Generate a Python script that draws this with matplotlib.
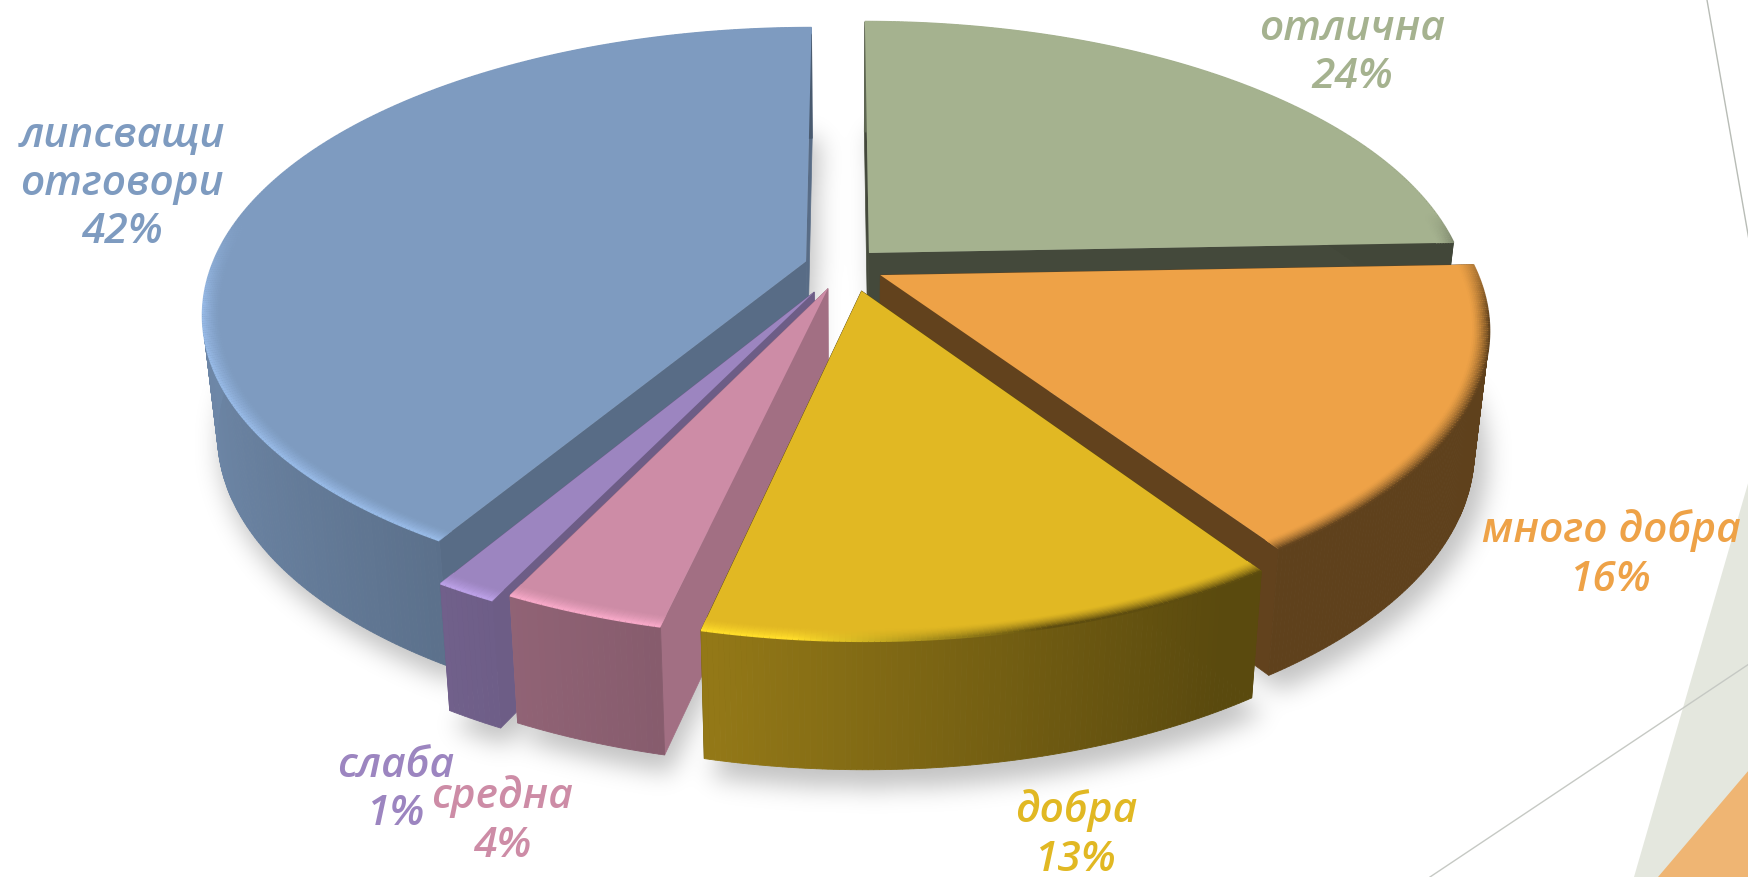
import numpy as np
import matplotlib
matplotlib.use('Agg')
import matplotlib.pyplot as plt
from matplotlib.collections import LineCollection
from matplotlib.colors import to_rgb
from matplotlib.path import Path

categories = ['отлична', 'много добра', 'добра', 'средна', 'слаба', 'липсващи\nотговори']
values = [24.4, 16.2, 13.0, 3.6, 1.4, 41.4]
pct_labels = ['24%', '16%', '13%', '4%', '1%', '42%']
colors = ['#A5B28F', '#EEA247', '#E1B823', '#CD8CA6', '#9C85C0', '#7E9BC0']
explode = [0.066, 0.072, 0.09, 0.085, 0.105, 0.063]
nudge_x = [0, 0, 0.016, 0.005, 0.004, 0]
wall_shade = [.41, .41, .41, .79, .70, .70]
label_x = [1352, 1611, 1076, 502, 396, 122]
label_y = [53, 555, 835, 821, 790, 184]
# drawing order, back to front
order = [0, 5, 1, 4, 3, 2]

W, H = 1749, 877
CX, CY = 842, 266   # centre of the pie, px
A, B = 594, 277     # disc radii, px
PERSP = 0.18
DEPTH = 118


def project(X, Y):
    p = 1 / (1 + PERSP * Y)
    return CX + A * X * p, CY - B * Y * p, p


def bottom(x, y, p):
    return CX + (x - CX) * 0.977, y + DEPTH * p**0.4


def shade(X):
    return np.interp(X, [-1, -.5, -.2, .5, 1], [.87, .72, .65, .40, .40])


def dark(c, f):
    return tuple(np.minimum(np.array(to_rgb(c)) * f, 1))


def blur(a, sigma):
    r = int(3 * sigma)
    g = np.exp(-np.arange(-r, r + 1)**2 / (2 * sigma**2))
    g /= g.sum()
    a = np.apply_along_axis(np.convolve, 0, a, g, mode='same')
    return np.apply_along_axis(np.convolve, 1, a, g, mode='same')


plt.rcParams['font.family'] = ['Open Sans', 'DejaVu Sans']
fig = plt.figure(figsize=(W / 100, H / 100), dpi=100)
ax = fig.add_axes([0, 0, 1, 1])

# slide decoration at right
ax.fill([1749, 1634, 1749], [480, 877, 877], color='#E4E7DE', lw=0, zorder=0)
ax.fill([1749, 1658, 1749], [770, 877, 877], color='#EFB573', lw=0, zorder=0)
ax.plot([1707, 1749], [0, 240], color='#B8BCB6', lw=1, zorder=0)
ax.plot([1430, 1749], [877, 664], color='#C6C9C4', lw=1, zorder=0)

edges = np.cumsum([0] + values) / sum(values) * 2 * np.pi
pie = {}
for i in range(len(values)):
    t = np.linspace(edges[i], edges[i + 1], max(int(values[i] * 8), 8))
    m = (edges[i] + edges[i + 1]) / 2
    pie[i] = (t, explode[i] * np.sin(m) + nudge_x[i], explode[i] * np.cos(m))

# soft shadow: bottom outlines of the slices, rasterised and blurred
gx, gy = np.meshgrid(np.arange(0, W, 2) + 1, np.arange(0, H, 2) + 1)
pts = np.c_[gx.ravel(), gy.ravel()]
mask = np.zeros(gx.shape)
for i in order:
    t, ox, oy = pie[i]
    x, y, p = project(np.r_[ox, ox + np.sin(t)], np.r_[oy, oy + np.cos(t)])
    xb, yb = bottom(x, y, p)
    xb = CX + 8 + (xb - CX) * 1.01
    yb = 125 + (yb - 125) * 1.03
    inside = Path(np.c_[xb, yb]).contains_points(pts).reshape(gx.shape)
    mask[inside] = 1
mask = blur(mask, 6)
rgba = np.zeros(mask.shape + (4,))
rgba[..., 3] = mask * 0.24
ax.imshow(rgba, extent=(0, W, H, 0), aspect='auto', zorder=1, interpolation='bilinear')

for i in order:
    t, ox, oy = pie[i]
    c = colors[i]
    x, y, p = project(ox + np.sin(t), oy + np.cos(t))
    x0, y0, p0 = project(ox, oy)
    xb, yb = bottom(x, y, p)
    x0b, y0b = bottom(x0, y0, p0)
    # radial walls
    for j in (0, -1):
        ax.fill([x0, x[j], xb[j], x0b], [y0, y[j], yb[j], y0b],
                color=dark(c, wall_shade[i]), lw=.5, zorder=2)
    # outer wall, in strips so the shade can change along it
    for k in range(len(t) - 1):
        f = shade(np.sin((t[k] + t[k + 1]) / 2))
        ax.fill([x[k], x[k + 1], xb[k + 1], xb[k]], [y[k], y[k + 1], yb[k + 1], yb[k]],
                color=dark(c, f), lw=.6, zorder=2)
    ax.fill(np.r_[x0, x], np.r_[y0, y], color=c, lw=0, zorder=2)
    # soft bevel along the front rim: light on the left, dark on the right
    for w in np.linspace(0, 1, 11):
        r = 1 - 0.028 * (1 - w)
        rx, ry, _ = project(ox + r * np.sin(t), oy + r * np.cos(t))
        seg = np.stack([np.c_[rx[:-1], ry[:-1]], np.c_[rx[1:], ry[1:]]], axis=1)
        mid = (t[:-1] + t[1:]) / 2
        front = np.clip((0.15 - np.cos(mid)) / 0.3, 0, 1) * w**1.5
        side = np.clip((np.sin(mid) + 0.1) / 0.35, 0, 1)[:, None]
        edge = (1 - side) * np.array(dark(c, 1.2)) + side * np.array(dark(c, .42))
        cols = (1 - front[:, None]) * np.array(to_rgb(c)) + front[:, None] * edge
        ax.add_collection(LineCollection(seg, colors=cols, linewidths=1.6, zorder=2))

# labels
for i in range(len(values)):
    ax.text(label_x[i], label_y[i], categories[i] + '\n' + pct_labels[i], color=colors[i],
            fontsize=30.5, style='italic', weight='semibold', ha='center', va='center',
            linespacing=1.2, zorder=3)

ax.set_xlim(0, W)
ax.set_ylim(H, 0)
ax.axis('off')
fig.savefig('out.png', dpi=100)
